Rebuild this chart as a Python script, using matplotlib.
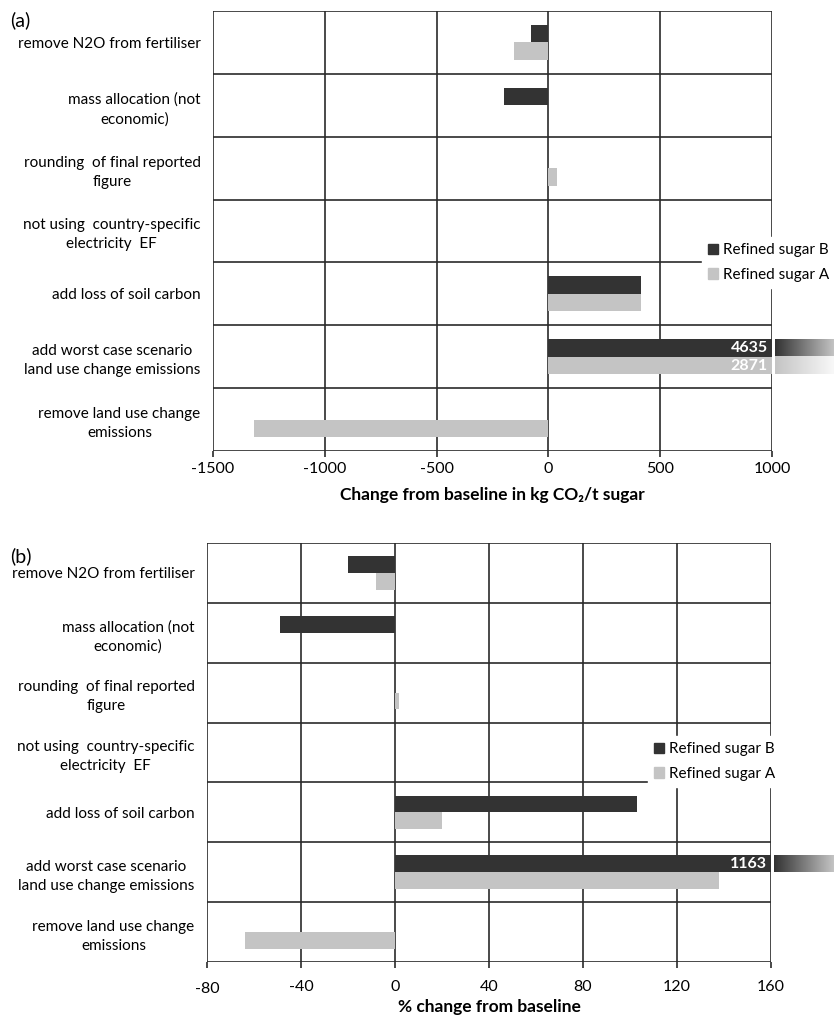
import numpy as np
import matplotlib
matplotlib.use("Agg")
import matplotlib.pyplot as plt
from matplotlib.patches import Patch
from matplotlib.colors import LinearSegmentedColormap
from matplotlib.transforms import blended_transform_factory

plt.rcParams['font.family'] = ['Lato', 'DejaVu Sans']

# %% data
categories = ["remove N2O from fertiliser",
              "mass allocation (not\neconomic)",
              "rounding  of final reported\nfigure",
              "not using  country-specific\nelectricity  EF",
              "add loss of soil carbon",
              "add worst case scenario\nland use change emissions",
              "remove land use change\nemissions"]
series = ["Refined sugar B", "Refined sugar A"]

# (a) kg CO2/t sugar
abs_B = [-80, -200, 0, 0, 415, 4635, 0]
abs_A = [-152, 0, 40, 0, 415, 2871, -1315]
abs_ticks = [-1500, -1000, -500, 0, 500, 1000]

# (b) % change
pct_B = [-20, -49, 0, 0, 103, 1163, 0]
pct_A = [-8, 0, 1.5, 0, 20, 138, -64]
pct_ticks = [-80, -40, 0, 40, 80, 120, 160]

dark = "#333333"
light = "#c4c4c4"
W, H = 834, 1016

fig = plt.figure(figsize=(W / 100, H / 100), dpi=100)


def px_axes(l, t, r, b):
    return fig.add_axes([l / W, 1 - b / H, (r - l) / W, (b - t) / H])


def panel(ax, vB, vA, ticks, xlabel, grad_cols, legend_px, tickpad, labelpad):
    n = len(categories)
    y = np.arange(n)
    h = 0.28
    ax.barh(y - h / 2, vB, height=h, color=dark, zorder=3, label=series[0])
    ax.barh(y + h / 2, vA, height=h, color=light, zorder=3, label=series[1])
    for t in ticks:
        ax.axvline(t, color="#2a2a2a", lw=1.2, zorder=2)
    for i in range(n + 1):
        ax.axhline(i - 0.5, color="#2a2a2a", lw=1.2, zorder=2)
    ax.set_xlim(ticks[0], ticks[-1])
    ax.set_ylim(n - 0.5, -0.5)
    ax.set_xticks(ticks)
    ax.set_xticklabels([str(t) for t in ticks])
    ax.set_yticks(y)
    ax.set_yticklabels(categories, multialignment="center", linespacing=1.45)
    ax.tick_params(axis="y", length=0, pad=9, labelsize=11)
    ax.tick_params(axis="x", direction="out", length=4, width=1.2,
                   color="#2a2a2a", labelsize=11.5, pad=tickpad)
    for s in ax.spines.values():
        s.set_visible(False)
    ax.set_xlabel(xlabel, fontsize=12.5, fontweight="bold", labelpad=labelpad)

    # bars running off the scale: value label + fading stub
    trans = blended_transform_factory(ax.transAxes, ax.transData)
    xmax = ticks[-1]
    for vals, off, c0, c1 in [(vB, -h / 2, dark, grad_cols[0]),
                              (vA, h / 2, light, grad_cols[1])]:
        for i, v in enumerate(vals):
            if v > xmax:
                ax.text(0.992, i + off, str(v), transform=trans, ha="right",
                        va="center", color="white", fontsize=11.5,
                        fontweight="bold", zorder=4)
                cmap = LinearSegmentedColormap.from_list("g", [c0, c1])
                ax.imshow(np.linspace(0, 1, 100)[None, :], cmap=cmap,
                          aspect="auto", transform=trans,
                          extent=[1.006, 1.115, i + off + h / 2, i + off - h / 2],
                          clip_on=False, zorder=3)
    ax.set_xlim(ticks[0], ticks[-1])
    ax.set_ylim(n - 0.5, -0.5)

    handles = [Patch(color=dark), Patch(color=light)]
    leg = ax.legend(handles, series, loc="upper left",
                    bbox_to_anchor=(legend_px[0] / W, 1 - legend_px[1] / H),
                    bbox_transform=fig.transFigure, frameon=True,
                    fancybox=False, framealpha=1, edgecolor="white",
                    fontsize=11, handlelength=0.65, handleheight=0.65,
                    handletextpad=0.35, labelspacing=0.7, borderpad=0.4,
                    borderaxespad=0)
    leg.set_zorder(6)
    return ax


# %% panel (a)
ax1 = px_axes(213, 11, 772, 451)
panel(ax1, abs_B, abs_A, abs_ticks,
      "Change from baseline in kg CO\u2082/t sugar",
      ["#c8c8c8", "#fafafa"], (702, 237), 4, 8)
fig.text(10 / W, 1 - 20 / H, "(a)", fontsize=14, va="center", ha="left")

# %% panel (b)
ax2 = px_axes(207, 543, 771, 962)
panel(ax2, pct_B, pct_A, pct_ticks, "% change from baseline",
      ["#c8c8c8", "#fafafa"], (648, 736), 9, 2)
ax2.xaxis.get_major_ticks()[0].set_pad(10.5)
fig.text(10 / W, 1 - 556 / H, "(b)", fontsize=14, va="center", ha="left")

fig.savefig("out.png", dpi=100)
